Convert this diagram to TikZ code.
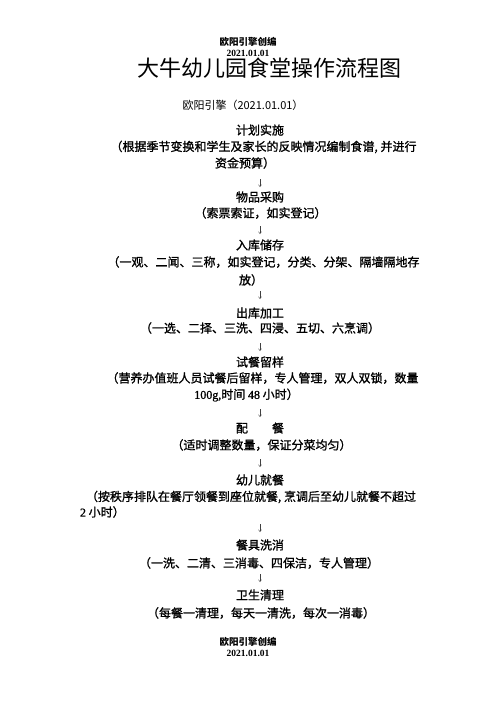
\documentclass[tikz,border=0pt]{standalone}
\usepackage{fontspec}
\setmainfont{Liberation Serif}
\newfontfamily\cjk{Noto Sans CJK SC}
\newfontfamily\cjkb[FakeBold=1.2]{Noto Sans CJK SC}
\newfontfamily\tms{Liberation Serif}
\newfontfamily\tmsb[FakeBold=1.0]{Liberation Serif}
\tikzset{
  every node/.style={inner sep=0pt, outer sep=0pt},
  body/.style={font=\cjkb\fontsize{12}{14}\selectfont},
  head/.style={font=\cjk\bfseries\fontsize{9.5}{11}\selectfont},
  headdate/.style={font=\tms\bfseries\fontsize{9.5}{11}\selectfont},
  flowarrow/.style={-{Straight Barb[length=2pt,width=3pt]}, line width=0.4pt, black!75}
}
\usetikzlibrary{arrows.meta}
\begin{document}
\begin{tikzpicture}[x=1pt,y=-1pt]
\useasboundingbox (0,0) rectangle (496,702);
% header
\node[head] (h1) at (248,42) {欧阳引擎创编};
\node[headdate] (h2) at (248,53) {2021.01.01};
\node[font=\cjk\fontsize{22}{24}\selectfont] (title) at (269.5,68) {大牛幼儿园食堂操作流程图};
\node[font=\cjk\fontsize{11}{13}\selectfont] (sub) at (243,105) {欧阳引擎（2021.01.01）};
% steps
\node[body] (s1) at (260,130) {计划实施};
\node[body] (s1a) at (263.5,147) {（根据季节变换和学生及家长的反映情况编制食谱, 并进行};
\node[body] (s1b) at (245,163) {资金预算）};
\node[body] (s2) at (260,197) {物品采购};
\node[body] (s2a) at (260.5,213) {（索票索证，如实登记）};
\node[body] (s3) at (260,245) {入库储存};
\node[body] (s3a) at (263.5,262) {（一观、二闻、三称，如实登记，分类、分架、隔墙隔地存};
\node[body] (s3b) at (251,280) {放）};
\node[body] (s4) at (260,313) {出库加工};
\node[body] (s4a) at (260,328) {（一选、二择、三洗、四浸、五切、六烹调）};
\node[body] (s5) at (260,362) {试餐留样};
\node[body] (s5a) at (262.5,378) {（营养办值班人员试餐后留样，专人管理，双人双锁，数量};
\node[body] (s5b) at (246.5,395) {{\tmsb 100g,}时间 {\tmsb 48} 小时）};
\node[body] (s6) at (260,428) {配\hspace{2em}餐};
\node[body] (s6a) at (261.5,445) {（适时调整数量，保证分菜均匀）};
\node[body] (s7) at (260,480) {幼儿就餐};
\node[body] (s7a) at (251,497) {（按秩序排队在餐厅领餐到座位就餐, 烹调后至幼儿就餐不超过};
\node[body,anchor=west] (s7b) at (80,512) {{\tmsb 2} 小时）};
\node[body] (s8) at (260,545) {餐具洗消};
\node[body] (s8a) at (259,563) {（一洗、二清、三消毒、四保洁，专人管理）};
\node[body] (s9) at (260,595) {卫生清理};
\node[body] (s9a) at (261,613) {（每餐一清理，每天一清洗，每次一消毒）};
% footer
\node[head] (f1) at (248,642) {欧阳引擎创编};
\node[headdate] (f2) at (248,653) {2021.01.01};
% arrows
\foreach \i/\y in {1/183,2/230,3/295,4/347,5/413,6/463,7/528,8/578}{
  \coordinate (a\i s) at (260,\y-4);
  \coordinate (a\i e) at (260,\y+4);
  \draw[flowarrow] (a\i s) -- (a\i e);
}
\end{tikzpicture}
\end{document}
